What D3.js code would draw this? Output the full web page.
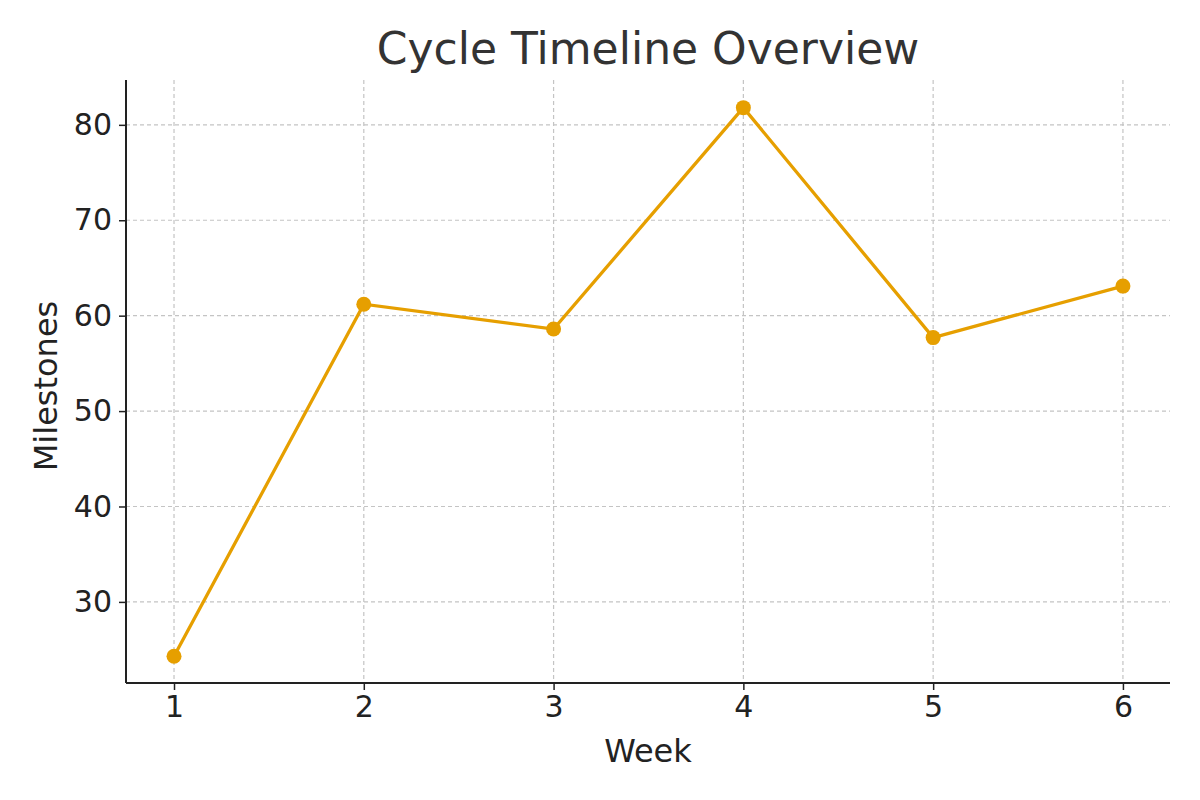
<!DOCTYPE html>
<html><head><meta charset="utf-8">
<script src="https://cdn.jsdelivr.net/npm/d3@7"></script>
<style>body{margin:0;background:#fff}svg{font-family:"DejaVu Sans",sans-serif}</style>
</head><body><svg id="c" width="1200" height="800"></svg>
<script>
const weeks = [1, 2, 3, 4, 5, 6];
const milestones = [24.3, 61.2, 58.6, 81.8, 57.7, 63.1];
const yTicks = [30, 40, 50, 60, 70, 80];
const title = "Cycle Timeline Overview";
const xLabel = "Week";
const yLabel = "Milestones";

const svg = d3.select("#c");
const L = 126, R = 1170, T = 80, B = 683;
const x = d3.scaleLinear().domain([0.747, 6.248]).range([L, R]);
const y = d3.scaleLinear().domain([21.5, 84.7]).range([B, T]);
const color = "#E69F00";

const g = svg.append("g");
g.selectAll(".vg").data(weeks).enter().append("line")
  .attr("x1", d => x(d)).attr("x2", d => x(d)).attr("y1", T).attr("y2", B)
  .attr("stroke", "#c4c4c4").attr("stroke-dasharray", "4,3").attr("stroke-width", 1.2);
g.selectAll(".hg").data(yTicks).enter().append("line")
  .attr("x1", L).attr("x2", R).attr("y1", d => y(d)).attr("y2", d => y(d))
  .attr("stroke", "#c4c4c4").attr("stroke-dasharray", "4,3").attr("stroke-width", 1.2);

const xa = svg.append("g").attr("transform", `translate(0,${B})`)
  .call(d3.axisBottom(x).tickValues(weeks).tickFormat(d3.format("d")).tickSize(7).tickPadding(6));
const ya = svg.append("g").attr("transform", `translate(${L},0)`)
  .call(d3.axisLeft(y).tickValues(yTicks).tickSize(7).tickPadding(7));
[xa, ya].forEach(a => {
  a.select(".domain").attr("stroke", "#222").attr("stroke-width", 2);
  a.selectAll(".tick line").attr("stroke", "#222").attr("stroke-width", 1.5);
  a.selectAll("text").attr("font-size", 30).attr("fill", "#222").attr("font-family", "DejaVu Sans");
});
xa.select(".domain").attr("d", `M${L},0H${R}`);
ya.select(".domain").attr("d", `M0,${T}V${B}`);

svg.append("path").datum(weeks.map((w, i) => [w, milestones[i]]))
  .attr("fill", "none").attr("stroke", color).attr("stroke-width", 3.3)
  .attr("d", d3.line().x(d => x(d[0])).y(d => y(d[1])));
svg.selectAll(".pt").data(milestones).enter().append("circle")
  .attr("cx", (d, i) => x(weeks[i])).attr("cy", d => y(d)).attr("r", 7.5).attr("fill", color);

svg.append("text").attr("x", 648).attr("y", 64).attr("text-anchor", "middle")
  .attr("font-size", 44).attr("fill", "#333").text(title);
svg.append("text").attr("x", 648).attr("y", 762).attr("text-anchor", "middle")
  .attr("font-size", 32).attr("fill", "#222").text(xLabel);
svg.append("text").attr("transform", "translate(57,386) rotate(-90)").attr("text-anchor", "middle")
  .attr("font-size", 32).attr("fill", "#222").text(yLabel);
</script></body></html>
